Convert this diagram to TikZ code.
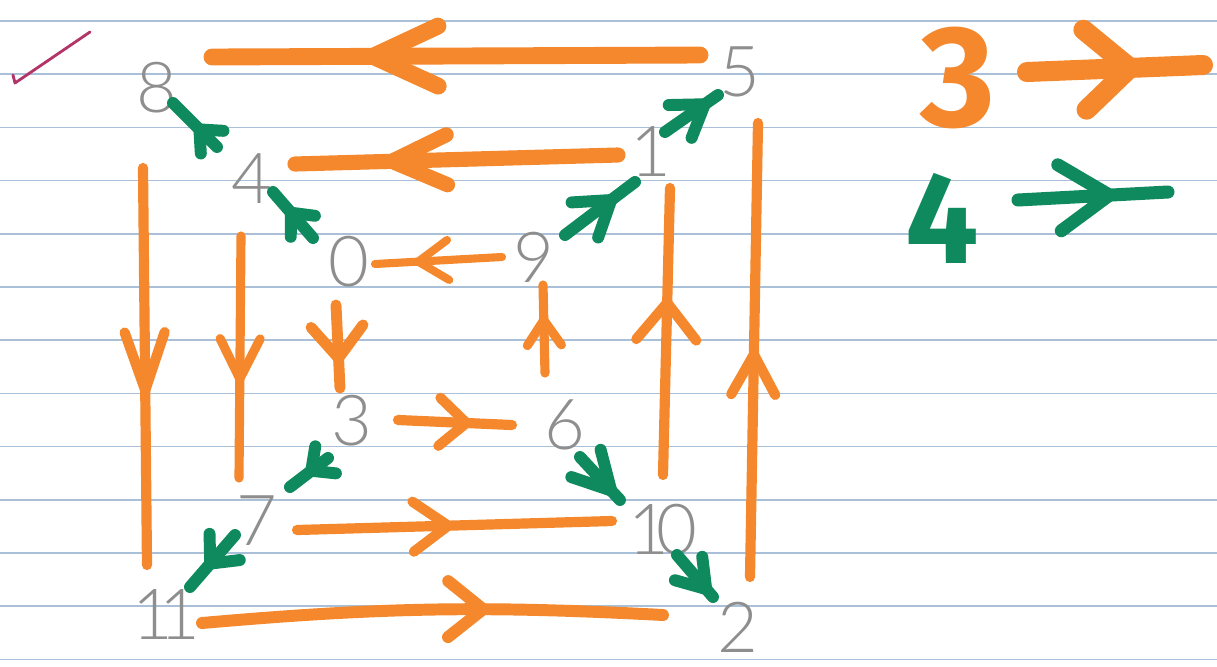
\documentclass[tikz,border=0pt]{standalone}
\usepackage{fontspec}
\usepackage{tikz}
\usetikzlibrary{calc,decorations.markings}
\newfontfamily\numfont{Lato Light}
\newfontfamily\legfont{Fira Sans}
\definecolor{mkorange}{HTML}{F5882C}
\definecolor{mkgreen}{HTML}{0F8A5E}
\definecolor{mkgray}{HTML}{8E8E8E}
\definecolor{mkblue}{HTML}{A9C0D8}
\definecolor{mkpink}{HTML}{B23468}

\begin{document}
\begin{tikzpicture}[x=0.01cm,y=-0.01cm,
  num/.style={text=mkgray,inner sep=0pt,font=\numfont\fontsize{20}{20}\selectfont},
  three/.style={color=mkorange,line cap=round,line join=round,line width=#1},
  four/.style={color=mkgreen,line cap=round,line join=round,line width=3.4pt},
  vhead/.style n args={3}{postaction={decorate},decoration={markings,
    mark=at position #1 with {\draw (-#2,#3) -- (0,0) -- (-#2,-#3);}}}]
  \useasboundingbox (0,0) rectangle (1217,666);
  \fill[white] (0,0) rectangle (1217,666);
  \foreach \k in {0,...,12}
    \draw[mkblue,line width=0.45pt] (0,{21+53.2*\k}) -- (1217,{21+53.2*\k});
  \draw[mkpink,line width=0.8pt,line cap=round,line join=round] (13,75) -- (15,83) -- (90,32);

  \node[num] (n8) at (157,88) {8};
  \node[num] (n4) at (252,179) {4};
  \node[num] (n0) at (349,262) {0};
  \node[num] (n9) at (534,257) {9};
  \node[num] (n1) at (651,152) {1};
  \node[num] (n5) at (740,72) {5};
  \node[num] (n3) at (352,421) {3};
  \node[num] (n6) at (565,425) {6};
  \node[num] (n7) at (257,521) {7};
  \node[num] (n10) at (663,530) {1\kern-3.5pt0};
  \node[num] (n11) at (166,615) {1\kern-4pt1};
  \node[num] (n2) at (738,627) {2};

  \draw[three=4.8pt,vhead={0.67}{65}{30}] ($(n5)+(-40,-17)$) -- ($(n8)+(55,-31)$);
  \draw[three=4.3pt,vhead={0.70}{55}{25}] ($(n1)+(-33,3)$) -- ($(n4)+(43,-15)$);
  \draw[three=2.3pt,vhead={0.66}{30}{20}] ($(n9)+(-32,0)$) -- ($(n0)+(26,2)$);
  \draw[three=2.9pt,vhead={0.56}{58}{20}] ($(n8)+(-14,80)$) -- ($(n11)+(-19,-50)$);
  \draw[three=2.6pt,vhead={0.59}{40}{20}] ($(n4)+(-11,57)$) -- ($(n7)+(-18,-43)$);
  \draw[three=3.1pt,vhead={0.64}{32}{26}] ($(n0)+(-13,43)$) -- ($(n3)+(-12,-33)$);
  \draw[three=2.9pt,vhead={0.60}{27}{24}] ($(n3)+(46,-1)$) -- ($(n6)+(-53,0)$);
  \draw[three=2.6pt,vhead={0.60}{25}{17}] ($(n6)+(-20,-52)$) -- ($(n9)+(9,28)$);
  \draw[three=2.9pt,vhead={0.60}{37}{30}] ($(n10)+(0,-55)$) -- ($(n1)+(19,36)$);
  \draw[three=2.9pt,vhead={0.49}{40}{22}] ($(n2)+(12,-50)$) -- ($(n5)+(18,51)$);
  \draw[three=2.9pt,vhead={0.48}{35}{25}] ($(n7)+(40,9)$) -- ($(n10)+(-51,-9)$);
  \draw[three=3.4pt,vhead={0.61}{35}{28}] ($(n11)+(36,8)$) to[bend left=4] ($(n2)+(-75,-12)$);

  \draw[four,vhead={0.40}{18}{16}] ($(n4)+(-35,-32)$) -- ($(n8)+(16,15)$);
  \draw[four,vhead={0.55}{18}{16}] ($(n0)+(-36,-24)$) -- ($(n4)+(21,13)$);
  \draw[four,vhead={0.66}{33}{22}] ($(n9)+(31,-22)$) -- ($(n1)+(-16,30)$);
  \draw[four,vhead={0.75}{30}{20}] ($(n1)+(14,-20)$) -- ($(n5)+(-22,23)$);
  \draw[four,vhead={0.44}{18}{17}] ($(n3)+(-24,37)$) -- ($(n7)+(33,-34)$);
  \draw[four,vhead={0.55}{22}{20}] ($(n7)+(-22,14)$) -- ($(n11)+(24,-28)$);
  \draw[four,vhead={0.78}{37}{20}] ($(n6)+(15,32)$) -- ($(n10)+(-43,-30)$);
  \draw[four,vhead={0.81}{27}{18}] ($(n10)+(14,25)$) -- ($(n2)+(-25,-30)$);

  \node[text=mkorange,inner sep=0pt,font=\legfont\bfseries\fontsize{41}{41}\selectfont] (l3) at (958,78) {3};
  \node[text=mkgreen,inner sep=0pt,font=\legfont\bfseries\fontsize{37}{37}\selectfont] (l4) at (942,218) {4};
  \coordinate (e3) at (1203,65);
  \coordinate (e4) at (1168,192);
  \draw[three=5.7pt,vhead={0.585}{45}{40}] ($(l3)+(69,-6)$) -- (e3);
  \draw[four,line width=3.7pt,vhead={0.61}{50}{33}] ($(l4)+(76,-18)$) -- (e4);
\end{tikzpicture}
\end{document}
